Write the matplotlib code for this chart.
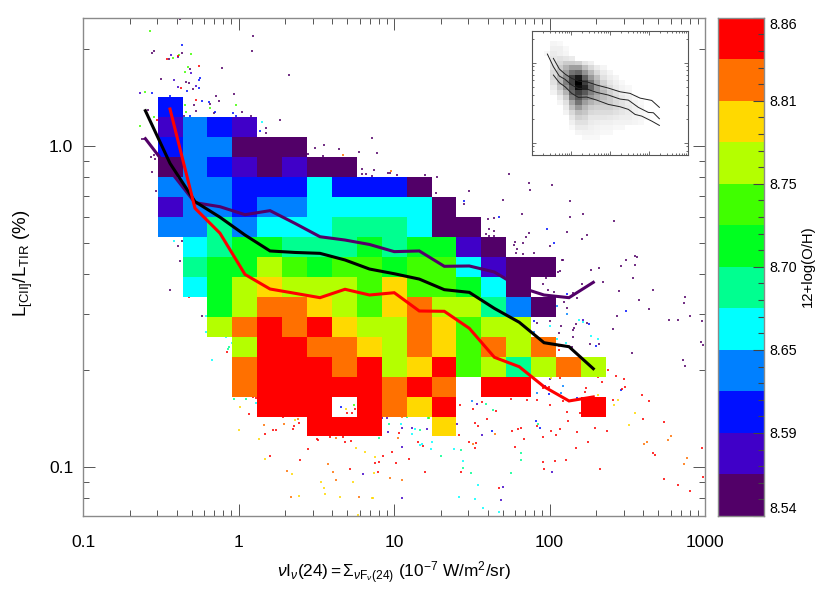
import numpy as np
import matplotlib
matplotlib.use("Agg")
import matplotlib.pyplot as plt
from matplotlib.colors import ListedColormap
from matplotlib.ticker import LogLocator, NullFormatter, FixedLocator, FixedFormatter

plt.rcParams['font.family'] = ['Liberation Sans', 'DejaVu Sans']
plt.rcParams['mathtext.fontset'] = 'custom'
plt.rcParams['mathtext.rm'] = 'Liberation Sans'
plt.rcParams['mathtext.it'] = 'Liberation Sans:italic'
plt.rcParams['mathtext.bf'] = 'Liberation Sans:bold'

level_colors = ['#520068', '#4000c8', '#0010ff', '#0080ff', '#00ffff', '#00ff90',
                '#00ff20', '#40ff00', '#b4ff00', '#ffd900', '#ff7000', '#ff0000']
cbar_labels = ['8.54', '8.59', '8.65', '8.70', '8.75', '8.81', '8.86']

# metallicity level in each (row, column) bin, -1 = empty
level_rows = [
    [2],
    [1, 3, 2, 1],
    [2, 3, 3, 0, 0, 0],
    [0, 3, 2, 1, 0, 1, 0, 0],
    [3, 3, 3, 2, 2, 2, 4, 2, 2, 2, 0],
    [1, 3, 3, 2, 3, 3, 4, 4, 4, 4, 4, 0],
    [3, 3, 5, 3, 4, 4, 4, 5, 5, 5, 4, 0, 0],
    [-1, 4, 5, 6, 6, 5, 5, 5, 6, 5, 6, 6, 1, 0],
    [-1, 5, 6, 6, 8, 7, 6, 7, 7, 6, 7, 7, 4, 1, 0, 0],
    [-1, 4, 6, 8, 9, 8, 8, 8, 7, 9, 7, 7, 6, 4, 0],
    [-1, -1, 6, 8, 10, 10, 9, 8, 7, 9, 10, 8, 8, 5, 3, 0],
    [-1, -1, 8, 10, 11, 10, 11, 9, 8, 8, 10, 9, 7, 8, 8],
    [-1, -1, -1, 8, 11, 11, 10, 10, 9, 8, 10, 9, 7, 10, 8, 10],
    [-1, -1, -1, 10, 11, 11, 11, 10, 11, 8, 9, 11, 7, 8, 5, 8, 10, 8],
    [-1, -1, -1, 10, 11, 11, 11, 11, 11, 10, 11, 10, -1, 11, 11],
    [-1, -1, -1, -1, 11, 11, 11, -1, 11, 10, 9, 11, -1, -1, -1, -1, -1, 11],
    [-1, -1, -1, -1, -1, -1, 11, 11, 11, -1, -1, 9],
]

# median curves
curve_x = [0.2518, 0.3627, 0.525, 0.760, 1.101, 1.595, 2.308, 3.343, 4.84, 6.96, 10.04,
           14.54, 21.06, 30.5, 44.2, 63.9, 92.2, 133.5, 191.3]
black_y = [1.288, 0.883, 0.671, 0.600, 0.528, 0.471, 0.466, 0.463, 0.4415, 0.4137, 0.400,
           0.385, 0.3568, 0.350, 0.312, 0.2824, 0.2439, 0.2370, 0.2024]
purple_y = [1.054, 0.8376, 0.666, 0.647, 0.611, 0.629, 0.574, 0.5216, 0.5094, 0.4934, 0.4687,
            0.471, 0.4219, 0.4229, 0.405, 0.3636, 0.3434, 0.3369, 0.3761]
red_x = curve_x[1:]
red_y = [1.304, 0.640, 0.535, 0.398, 0.3585, 0.3476, 0.3369, 0.3578, 0.3434, 0.3491,
         0.3062, 0.3055, 0.2704, 0.2197, 0.2053, 0.1779, 0.1606, 0.1653]

# outlying points: log10 x, log10 y, one pair of lists per level
lx0 = [-0.376,0.093,-0.543,-0.556,0.087,-0.363,-0.447,-0.312,-0.106,0.325,-0.498,-0.338,-0.318,-0.293,-0.029,-0.145,-0.125,-0.183,-0.286,-0.273,-0.582,-0.158,0.023,0.080,-0.350,0.267,0.177,0.177,-0.620,-0.608,-0.563,-0.537,-0.543,-0.556,-0.530,-0.389,-0.363,-0.376,-0.440,0.447,0.492,0.550,0.543,0.646,0.775,0.858,0.891,0.794,0.871,0.794,0.820,0.858,0.961,0.974,1.019,1.199,1.276,1.270,1.482,1.450,1.701,1.739,1.868,1.874,2.016,2.132,2.215,2.132,1.823,1.604,1.643,1.611,1.643,1.591,1.611,1.643,1.868,1.849,2.112,2.241,2.209,1.778,1.771,1.829,2.003,2.415,1.791,1.784,1.829,1.900,2.080,2.087,2.492,2.549,2.562,2.549,2.459,2.318,2.267,2.067,2.054,1.977,2.537,2.344,2.209,1.958,1.990,2.029,2.447,2.665,2.151,2.093,2.177,2.575,2.112,2.865,2.871,2.640,2.434,2.903,2.768,2.826,2.980,2.241,2.170,2.003,2.074,1.919,2.157,2.151,2.408,2.061,2.151,2.260,2.318,2.144,2.974,2.99,2.530,2.858,2.871,-0.235]
ly0 = [0.396,0.343,0.296,0.290,0.296,0.290,0.271,0.240,0.243,0.221,0.209,0.199,0.196,0.178,0.162,0.156,0.140,0.131,0.128,0.109,0.112,0.103,0.106,0.093,0.093,0.081,0.056,0.040,0.022,0.022,-0.034,-0.040,-0.028,-0.081,-0.140,-0.312,-0.296,-0.358,-0.449,-0.025,-0.006,0.003,-0.031,-0.009,-0.019,0.025,-0.022,-0.072,-0.075,-0.087,-0.087,-0.093,-0.084,-0.084,-0.090,-0.090,-0.097,-0.146,-0.140,-0.181,-0.168,-0.087,-0.115,-0.137,-0.121,-0.171,-0.212,-0.221,-0.212,-0.227,-0.224,-0.259,-0.265,-0.274,-0.280,-0.280,-0.271,-0.283,-0.268,-0.277,-0.290,-0.299,-0.308,-0.302,-0.312,-0.234,-0.321,-0.333,-0.336,-0.333,-0.355,-0.355,-0.355,-0.343,-0.346,-0.371,-0.374,-0.380,-0.386,-0.389,-0.392,-0.411,-0.411,-0.424,-0.430,-0.430,-0.449,-0.455,-0.452,-0.449,-0.458,-0.486,-0.473,-0.480,-0.505,-0.489,-0.470,-0.508,-0.530,-0.530,-0.542,-0.542,-0.545,-0.551,-0.554,-0.545,-0.561,-0.551,-0.567,-0.573,-0.570,-0.583,-0.595,-0.617,-0.617,-0.626,-0.611,-0.620,-0.645,-0.667,-0.685,-0.530]
lx1 = [-0.434,-0.389,-0.305,-0.415,-0.389,-0.273,-0.633,2.215,2.003,1.534,1.405,1.566,0.923,0.955,1.051,1.116,1.212,0.961,1.051,0.801,1.051,2.016,1.701,1.688]
ly1 = [0.283,0.277,0.227,0.206,0.184,0.187,0.165,-0.542,-0.726,-0.804,-0.866,-0.900,-0.847,-0.847,-0.878,-0.878,-0.882,-0.891,-0.938,-1.022,-1.096,-1.015,-1.062,-1.103]
lx2 = [-0.363,-0.248,-0.254,-0.254,-0.331,-0.556,-0.440,-0.235,-0.190,-0.151,-0.035,-0.016,-0.312,0.138,1.450,1.675,1.984,2.029,2.112,2.492,2.254,1.900,2.299,1.971,2.459,1.996,2.177,1.913,1.939,0.659,1.630]
ly2 = [0.315,0.212,0.206,0.181,0.171,0.165,0.156,0.140,0.137,0.106,0.103,0.093,0.093,0.047,-0.171,-0.221,-0.259,-0.302,-0.461,-0.514,-0.554,-0.545,-0.623,-0.748,-0.760,-0.773,-0.785,-0.857,-0.878,-0.813,-0.888]
lx3 = [2.048,2.112,1.900,2.087,2.074,1.919,1.501]
ly3 = [-0.498,-0.523,-0.579,-0.748,-0.769,-0.769,-0.794]
lx4 = [0.151,-0.415,2.189,2.215,2.003,2.267,2.312,2.048,2.106,-0.209,-0.209,-0.080,-0.042,-0.170,0.113,1.045,1.135,1.116,1.244,1.167,1.180,1.238,1.386,1.444,1.540,1.418,1.521,1.572,1.675]
ly4 = [0.075,-0.296,-0.542,-0.548,-0.561,-0.592,-0.601,-0.601,-0.614,-0.530,-0.579,-0.595,-0.614,-0.667,-0.801,-0.866,-0.882,-0.897,-0.922,-0.931,-0.928,-0.944,-0.944,-0.981,-1.056,-1.093,-1.100,-1.128,-1.140]
lx5 = [1.926,1.816,1.816,1.752,1.591,1.636,1.083,1.218,0.968,1.167,0.903,1.431,1.302,1.444,1.495,-0.061,-0.068,-0.029,0.048]
ly5 = [-0.866,-0.956,-0.978,-1.019,-0.804,-0.822,-0.844,-0.847,-0.866,-0.885,-0.910,-0.947,-0.966,-1.003,-1.019,-0.626,-0.632,-0.788,-0.788]
lx6 = [-0.569,-0.305,-0.383,-0.421,-0.325,-0.344,-0.601,-0.344,-0.016,-0.183,-0.338,-0.543,-0.633,1.225,0.743]
ly6 = [0.358,0.287,0.283,0.274,0.246,0.231,0.168,0.128,0.128,0.118,0.106,0.090,0.062,-0.847,-0.807]
lx9 = [2.010,2.312,2.440,2.415,2.549,2.511,0.691,0.010,0.003,0.132,0.170,0.363,0.756,0.813,0.878,0.871,0.344,0.530,0.736,0.550,0.389,0.556,0.653,0.858,0.865,0.769]
ly9 = [-0.723,-0.776,-0.791,-0.807,-0.832,-0.869,-0.819,-0.813,-0.885,-0.913,-0.975,-0.854,-0.941,-0.953,-0.969,-1.019,-1.022,-1.047,-1.047,-1.065,-1.090,-1.084,-1.093,-1.096,-1.096,-1.149]
lx10 = [0.672,0.981,1.771,2.781,2.762,2.627,2.607,2.884,2.865,0.627,1.026,1.051,1.649,1.508,0.164,0.293,0.383,0.312,0.575,0.608,0.974,0.627,1.051,0.338,0.775]
ly10 = [-0.028,-0.078,-0.779,-0.903,-0.916,-0.922,-0.928,-0.972,-0.991,-0.910,-0.910,-0.844,-0.897,-0.928,-0.869,-0.866,-0.850,-1.012,-0.991,-1.015,-1.034,-1.040,-1.040,-1.093,-1.093]
lx11 = [-0.389,-0.460,-0.254,-0.370,-0.273,-0.524,-0.318,2.061,2.061,2.376,2.312,2.427,2.479,2.337,2.067,2.234,2.228,2.485,2.466,1.996,1.958,2.595,2.640,2.408,1.919,1.855,1.752,2.003,2.087,2.112,2.196,2.601,1.919,2.119,2.736,1.759,1.797,1.816,2.067,2.010,2.042,2.177,2.292,2.370,1.958,1.836,2.247,2.980,1.778,2.170,2.665,2.678,1.958,2.035,2.106,1.964,2.324,2.736,2.99,2.826,2.903,0.749,0.698,0.730,1.424,1.566,1.508,1.656,1.598,1.521,1.540,1.418,1.032,0.588,0.672,0.505,0.511,0.685,0.723,1.154,1.186,1.482,1.527,1.521,0.447,0.987,0.929,1.096,0.395,0.878,0.903,1.013,0.717,0.897,1.199,1.431,1.675,-0.074,0.093,0.113,0.068,0.170,0.222,0.241,0.286,0.357,0.389,0.350,0.203]
ly11 = [0.280,0.271,0.249,0.181,0.143,0.081,-0.470,-0.623,-0.635,-0.698,-0.720,-0.716,-0.726,-0.735,-0.723,-0.754,-0.766,-0.751,-0.757,-0.751,-0.754,-0.776,-0.794,-0.791,-0.791,-0.791,-0.788,-0.807,-0.794,-0.829,-0.832,-0.850,-0.872,-0.857,-0.860,-0.888,-0.882,-0.878,-0.882,-0.888,-0.900,-0.891,-0.878,-0.888,-0.906,-0.913,-0.922,-0.941,-0.938,-0.941,-0.956,-0.963,-0.984,-0.981,-0.978,-1.006,-1.006,-1.037,-1.031,-1.056,-1.075,-0.819,-0.832,-0.832,-0.807,-0.797,-0.819,-0.825,-0.850,-0.863,-0.872,-0.900,-0.894,-0.906,-0.906,-0.913,-0.916,-0.922,-0.919,-0.922,-0.934,-0.922,-0.925,-0.941,-0.944,-0.953,-0.966,-0.975,-0.978,-0.987,-0.984,-0.987,-1.006,-1.015,-1.015,-1.015,-1.065,-0.642,-0.782,-0.785,-0.835,-0.897,-0.885,-0.885,-0.844,-0.872,-0.863,-0.882,-0.966]
point_sets = [(lx0, ly0, 0), (lx1, ly1, 1), (lx2, ly2, 2), (lx3, ly3, 3), (lx4, ly4, 4), (lx5, ly5, 5),
              (lx6, ly6, 7), (lx9, ly9, 9), (lx10, ly10, 10), (lx11, ly11, 11)]

# inset: relative number of pixels per bin, rows r-2 .. r17, columns c-1 .. c15
density_rows = [
    [0, 4, 3],
    [0, 6, 6, 3],
    [3, 8, 6, 4],
    [0, 10, 12, 10, 8],
    [0, 10, 15, 20, 20, 18, 10, 6],
    [0, 12, 20, 30, 38, 38, 25, 15, 8, 4],
    [0, 15, 25, 38, 55, 60, 42, 28, 15, 8, 4],
    [0, 15, 28, 45, 75, 90, 62, 40, 25, 12, 7, 4],
    [0, 12, 28, 50, 75, 100, 75, 55, 32, 18, 10, 6, 3],
    [0, 8, 22, 42, 65, 95, 85, 60, 38, 24, 14, 8, 5, 3],
    [0, 5, 15, 30, 60, 75, 65, 50, 38, 28, 18, 12, 7, 4],
    [0, 0, 8, 20, 50, 65, 50, 40, 32, 26, 20, 14, 9, 6, 3],
    [0, 0, 4, 12, 35, 55, 38, 30, 24, 22, 20, 15, 12, 8, 5, 3],
    [0, 0, 0, 8, 25, 40, 28, 20, 18, 18, 18, 15, 12, 9, 6, 4],
    [0, 0, 0, 5, 15, 25, 22, 15, 14, 14, 14, 12, 10, 8, 6, 4, 3],
    [0, 0, 0, 0, 10, 18, 16, 10, 10, 10, 9, 8, 7, 7, 5, 4, 3],
    [0, 0, 0, 0, 6, 12, 12, 8, 7, 6, 6, 5, 5, 5, 4, 3],
    [0, 0, 0, 0, 3, 8, 8, 6, 5, 4, 4, 3, 3],
    [0, 0, 0, 0, 0, 4, 5, 5, 4, 3, 3],
    [0, 0, 0, 0, 0, 0, 3, 3, 3],
]
inset_top_lx = [-0.444, -0.291, -0.145, 0.026, 0.197, 0.410, 0.667, 0.966, 1.265, 1.521, 1.778, 2.077, 2.274]
inset_top_ly = [0.054, -0.079, -0.142, -0.196, -0.229, -0.238, -0.279, -0.317, -0.363, -0.383, -0.442, -0.471, -0.558]
inset_mid_lx = [-0.598, -0.444, -0.291, -0.145, 0.026, 0.197, 0.410, 0.667, 0.966, 1.265, 1.479, 1.735, 1.991, 2.120, 2.274]
inset_mid_ly = [0.108, -0.050, -0.167, -0.208, -0.279, -0.321, -0.329, -0.371, -0.404, -0.454, -0.467, -0.558, -0.621, -0.625, -0.700]
inset_bot_lx = [-0.444, -0.291, -0.145, 0.026, 0.197, 0.410, 0.667, 0.966, 1.265, 1.479, 1.650, 1.821, 2.077, 2.274]
inset_bot_ly = [-0.154, -0.250, -0.300, -0.383, -0.433, -0.429, -0.467, -0.521, -0.550, -0.583, -0.646, -0.667, -0.729, -0.783]

W, H = 830, 593
fig = plt.figure(figsize=(W / 100, H / 100), dpi=100)


def rect(l, t, r, b):
    return [l / W, 1 - b / H, (r - l) / W, (b - t) / H]


ax = fig.add_axes(rect(83, 17.7, 705, 516))
frame_col = '#8a8a8a'
tick_col = '#555555'


def style_log(a, major, minor, width, labels=True):
    a.set_xscale('log')
    a.set_yscale('log')
    a.set_xlim(0.1, 1000)
    a.set_ylim(10 ** (-1 - 49 / 321), 10 ** (128.3 / 321))
    for s in a.spines.values():
        s.set_color(frame_col)
        s.set_linewidth(1.0)
    a.xaxis.set_major_locator(LogLocator(10, numticks=8))
    a.yaxis.set_major_locator(LogLocator(10, numticks=8))
    a.xaxis.set_minor_locator(LogLocator(10, subs=range(2, 10), numticks=12))
    a.yaxis.set_minor_locator(LogLocator(10, subs=range(2, 10), numticks=12))
    a.xaxis.set_minor_formatter(NullFormatter())
    a.yaxis.set_minor_formatter(NullFormatter())
    a.tick_params(which='major', direction='in', length=major, width=width, color=tick_col,
                  top=True, right=True)
    a.tick_params(which='minor', direction='in', length=minor, width=width, color=tick_col,
                  top=True, right=True)


style_log(ax, 8.6, 4.3, 0.7)
ax.xaxis.set_major_locator(FixedLocator([0.1, 1, 10, 100, 1000]))
ax.xaxis.set_major_formatter(FixedFormatter(['0.1', '1', '10', '100', '1000']))
ax.yaxis.set_major_locator(FixedLocator([0.1, 1.0]))
ax.yaxis.set_major_formatter(FixedFormatter(['0.1', '1.0']))
ax.tick_params(axis='x', which='major', labelsize=12.6, pad=14)
ax.tick_params(axis='y', which='major', labelsize=12.6, pad=7)

cmap = ListedColormap(level_colors)
n_rows = len(level_rows)
n_cols = 18
grid = np.full((n_rows, n_cols), -1.0)
for i, row in enumerate(level_rows):
    grid[i, :len(row)] = row
grid = np.ma.masked_less(grid, 0)
x_edges = 10 ** (-0.5196 + 0.1601 * np.arange(n_cols + 1))
y_edges = 10 ** (0.1517 - 0.06215 * np.arange(n_rows + 1))
ax.pcolormesh(x_edges, y_edges, grid, cmap=cmap, vmin=-0.5, vmax=11.5, zorder=3, linewidth=0, rasterized=True)

for lx, ly, lev in point_sets:
    ax.scatter(10 ** np.array(lx), 10 ** np.array(ly), s=2.4, marker='s', color=level_colors[lev],
               linewidths=0, alpha=0.8, zorder=2)

ax.plot(curve_x, purple_y, color=level_colors[0], lw=2.2, zorder=4, solid_joinstyle='miter')
ax.plot(curve_x, black_y, color='black', lw=2.2, zorder=5, solid_joinstyle='miter')
ax.plot(red_x, red_y, color='#ff0000', lw=2.2, zorder=6, solid_joinstyle='miter')

ax.set_xlabel(r'$\nu$I$_{\nu}$(24)$\,$=$\,\Sigma_{\nu\mathrm{F}_{\nu}\mathrm{(24)}}$ (10$^{-7}$ W/m$^{2}$/sr)',
              fontsize=12.4)
ax.xaxis.set_label_coords(0.5, -(573 - 516) / (516 - 17.7), transform=ax.transAxes)
ax.xaxis.label.set_va('center')
ax.set_ylabel(r'L$_{\mathrm{[CII]}}$/L$_{\mathrm{TIR}}$ (%)', fontsize=13.5)
ax.yaxis.set_label_coords(-(83 - 23) / (705 - 83), 1 - (263 - 17.7) / (516 - 17.7), transform=ax.transAxes)
ax.yaxis.label.set_va('center')

# inset density
ins = fig.add_axes(rect(531.7, 30.7, 687.7, 155))
ins.set_zorder(5)
style_log(ins, 3.0, 1.5, 0.6)
ins.tick_params(labelbottom=False, labelleft=False, which='both')
ins.xaxis.set_major_formatter(NullFormatter())
ins.yaxis.set_major_formatter(NullFormatter())
for s in ins.spines.values():
    s.set_color('#555555')
    s.set_linewidth(0.8)
d_rows = len(density_rows)
d_cols = 17
dens = np.zeros((d_rows, d_cols))
for i, row in enumerate(density_rows):
    dens[i, :len(row)] = row
dx = 10 ** (-0.5196 + 0.1601 * (np.arange(d_cols + 1) - 1))
dy = 10 ** (0.1517 - 0.06215 * (np.arange(d_rows + 1) - 2))
ins.pcolormesh(dx, dy, dens, cmap='gray_r', vmin=0, vmax=100, linewidth=0, rasterized=True, shading='flat')
for lx, ly in [(inset_top_lx, inset_top_ly), (inset_mid_lx, inset_mid_ly), (inset_bot_lx, inset_bot_ly)]:
    ins.plot(10 ** np.array(lx), 10 ** np.array(ly), color='#222222', lw=0.7)

# colour bar
cax = fig.add_axes(rect(718, 17.7, 763.5, 516))
edges = np.linspace(8.54, 8.86, 13)
cax.pcolormesh([0, 1], edges, np.arange(12).reshape(-1, 1), cmap=cmap, vmin=-0.5, vmax=11.5, rasterized=True)
cax.set_xlim(0, 1)
cax.set_ylim(8.54, 8.86)
cax.set_xticks([])
major = np.linspace(8.54, 8.86, 7)
cax.yaxis.set_major_locator(FixedLocator(major))
cax.yaxis.set_major_formatter(FixedFormatter(cbar_labels))
cax.yaxis.set_minor_locator(FixedLocator(np.linspace(8.54, 8.86, 31)))
cax.yaxis.tick_right()
cax.tick_params(which='major', direction='in', length=8, width=0.8, color='#444444', labelsize=10.3, pad=4, right=True, left=False)
cax.tick_params(which='minor', direction='in', length=4.3, width=0.8, color='#444444', right=True, left=False)
for s in cax.spines.values():
    s.set_color(frame_col)
    s.set_linewidth(1.0)
fig.canvas.draw()
lbls = cax.get_yticklabels()
lbls[0].set_va('bottom')
lbls[-1].set_va('top')
fig.text(808 / W, 1 - 266 / H, '12+log(O/H)', rotation=90, fontsize=10.7, ha='center', va='center')

fig.savefig('out.png', dpi=100)
